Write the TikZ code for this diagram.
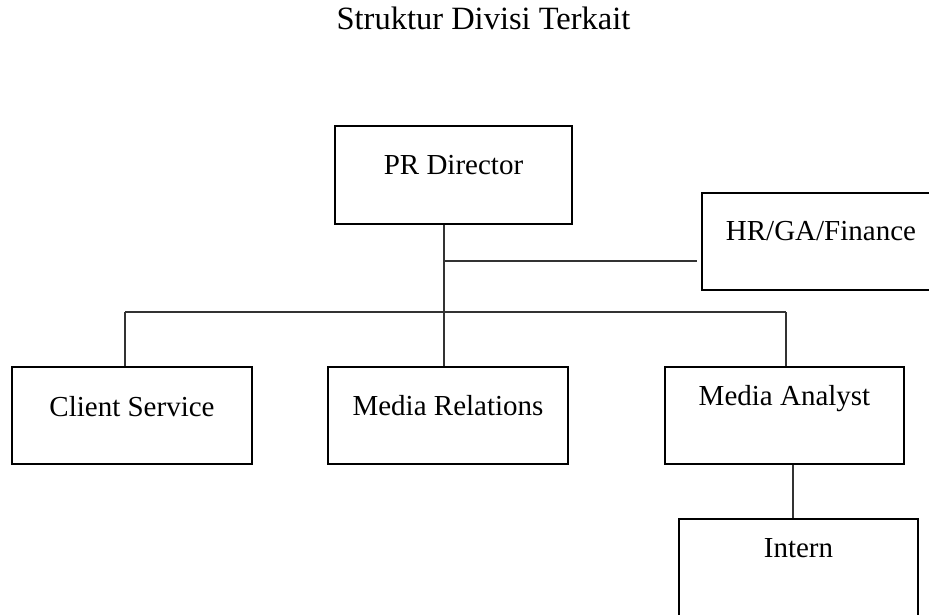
\documentclass[tikz,border=0pt]{standalone}
\usepackage{fontspec}
\setmainfont{Liberation Serif}
\begin{document}
\begin{tikzpicture}[x=1pt,y=-1pt,
  orgbox/.style={draw=black, line width=2.7pt, inner sep=0pt, minimum height=97pt,
    font=\fontsize{29}{34}\selectfont, text height=15pt},
  conn/.style={draw=black!80, line width=1.3pt}]
\useasboundingbox (0,0) rectangle (929,615);
\clip (0,0) rectangle (929,615);
\node[anchor=base, font=\fontsize{32.5}{38}\selectfont] (title) at (483.5,29.5) {Struktur Divisi Terkait};
\node[orgbox, minimum width=237pt, minimum height=98pt, text depth=15pt] (pr) at (453.5,175) {PR Director};
\node[orgbox, minimum width=238pt, text depth=18pt] (hr) at (821,241.5) {HR/GA/Finance};
\node[orgbox, minimum width=240pt, text depth=14pt] (cs) at (132,415.5) {Client Service};
\node[orgbox, minimum width=240pt, text depth=16pt] (mr) at (448,415.5) {Media Relations};
\node[orgbox, minimum width=239pt, text depth=36pt] (ma) at (784.5,415.5) {Media Analyst};
\node[orgbox, minimum width=239pt, minimum height=98pt, text depth=37pt] (in) at (798.5,568) {Intern};
\coordinate (j1) at (444,261);
\coordinate (bl) at (125,312);
\coordinate (br) at (786,312);
\coordinate (hrend) at (697,261);
\coordinate (mi) at (793,464);
\draw[conn] (pr.south -| j1) -- (mr.north -| j1);
\draw[conn] (j1) -- (hrend);
\draw[conn] (bl) -- (br);
\draw[conn] (bl) -- (cs.north -| bl);
\draw[conn] (br) -- (ma.north -| br);
\draw[conn] (ma.south -| mi) -- (in.north -| mi);
\end{tikzpicture}
\end{document}
